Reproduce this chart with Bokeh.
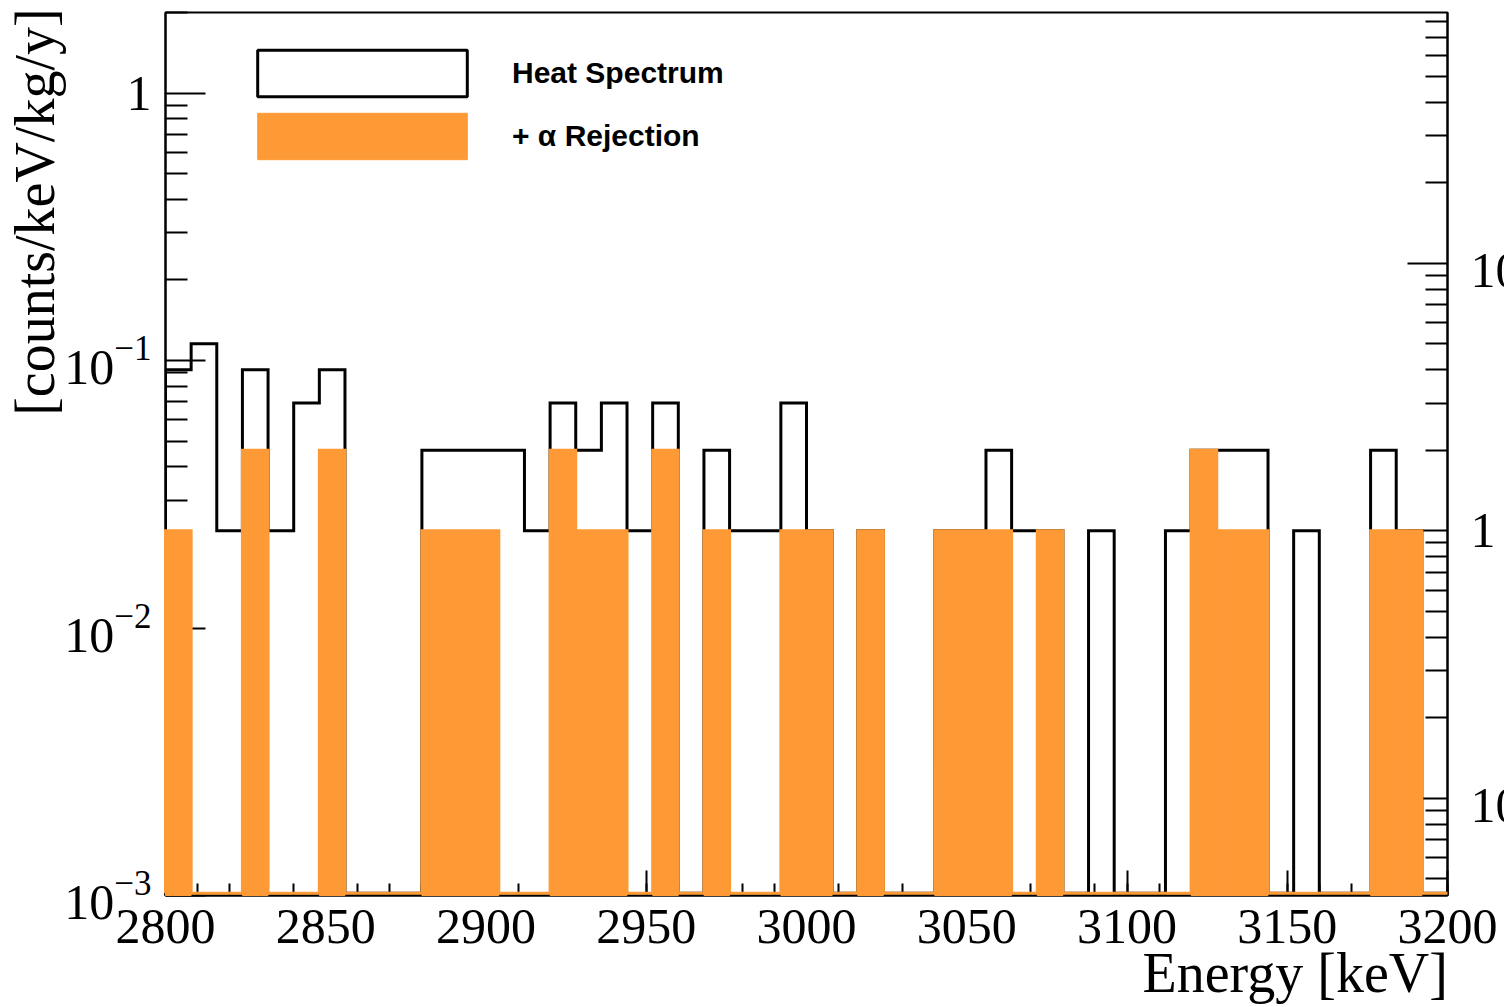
import json
import math
import numpy as np
from bokeh.plotting import figure
from bokeh.models import (Range1d, LogAxis, LinearAxis, LogScale, FixedTicker, SingleIntervalTicker,
                          LogTickFormatter, CustomJSTickFormatter, Legend, LegendItem)
from bokeh.embed import file_html
from bokeh.resources import INLINE

# ---------------- data ----------------
E_MIN, E_MAX, BIN_WIDTH = 2800.0, 3200.0, 8.0
# events per 8 keV bin
heat_counts = [4, 5, 1, 4, 1, 3, 4, 0, 0, 0,
               2, 2, 2, 2, 1, 3, 2, 3, 1, 3,
               0, 2, 1, 1, 3, 1, 0, 1, 0, 0,
               1, 1, 2, 1, 1, 0, 1, 0, 0, 1,
               2, 2, 2, 0, 1, 0, 0, 2, 1, 0]
alpha_rej_counts = [1, 0, 0, 2, 0, 0, 2, 0, 0, 0,
                    1, 1, 1, 0, 0, 2, 1, 1, 0, 2,
                    0, 1, 0, 0, 1, 1, 0, 1, 0, 0,
                    1, 1, 1, 0, 1, 0, 0, 0, 0, 0,
                    2, 1, 1, 0, 0, 0, 0, 1, 1, 0]
RATE_PER_COUNT = 0.0231          # counts/keV/kg/y for one event in a bin
Y_MIN, Y_MAX = 1e-3, 2.0
ZERO_LEVEL = 1.02e-3             # where empty bins are drawn (just above the axis floor)
left_major_ticks = [1e-3, 1e-2, 1e-1, 1.0]
right_major_ticks = [0.1, 1.0, 10.0]
x_tick_step = 50
legend_labels = ["Heat Spectrum", "+ \u03b1 Rejection"]
x_title = "Energy [keV]"
y_title = "[counts/keV/kg/y]"

ORANGE = "#FE9A36"
SERIF = "Liberation Serif"
TITLE_PX = 56

# ---------------- derived ----------------
edges = E_MIN + BIN_WIDTH * np.arange(len(heat_counts) + 1)
heat_rate = np.array(heat_counts, dtype=float) * RATE_PER_COUNT
alpha_rate = np.array(alpha_rej_counts, dtype=float) * RATE_PER_COUNT


def step_path(vals):
    v = np.where(vals > 0, vals, ZERO_LEVEL)
    xs, ys = [float(edges[0])], [ZERO_LEVEL]
    for i, val in enumerate(v):
        xs += [float(edges[i]), float(edges[i + 1])]
        ys += [float(val), float(val)]
    xs.append(float(edges[-1]))
    ys.append(ZERO_LEVEL)
    return xs, ys


VIEW_W, VIEW_H = 1504, 1007          # visible page area (the right tick labels run off it, as in the original)
ML, MT, MB = 165, 12, 112
FW = 1447 - ML
MR = 120
W, H = ML + FW + MR, VIEW_H
FH = H - MT - MB
PX_PER_KEV = FW / (E_MAX - E_MIN)
PX_PER_DECADE = FH / math.log10(Y_MAX / Y_MIN)

p = figure(width=W, height=H, x_range=Range1d(E_MIN, E_MAX), y_range=Range1d(Y_MIN, Y_MAX),
           y_axis_type="log", output_backend="svg", toolbar_location=None,
           min_border_left=ML, min_border_right=MR, min_border_top=MT, min_border_bottom=MB)
p.grid.visible = False
p.outline_line_color = "black"
p.outline_line_width = 2
p.background_fill_color = "white"
p.border_fill_color = "white"

# black heat-spectrum histogram
hx, hy = step_path(heat_rate)
r_heat = p.line(hx, hy, line_color="black", line_width=3, line_join="miter")

# orange alpha-rejected histogram (fill + outline), drawn above the axis ticks as in the original
mask = alpha_rate > 0
r_orange = p.quad(left=edges[:-1][mask], right=edges[1:][mask], bottom=Y_MIN, top=alpha_rate[mask],
                  fill_color=ORANGE, line_color=ORANGE, line_width=1, level="annotation")
ox, oy = step_path(alpha_rate)
p.line(ox, oy, line_color=ORANGE, line_width=3, line_join="miter", level="annotation")

# ---------------- axes ----------------
xa = p.xaxis[0]
xa.ticker = SingleIntervalTicker(interval=x_tick_step, num_minor_ticks=5)
xa.major_tick_in, xa.major_tick_out = 25, 0
xa.minor_tick_in, xa.minor_tick_out = 12, 0
xa.major_label_standoff = 14

ya = p.yaxis[0]
ya.ticker = FixedTicker(ticks=left_major_ticks,
                        minor_ticks=[m * d for d in left_major_ticks for m in range(2, 10)])
ya.formatter = LogTickFormatter(min_exponent=1)
ya.major_tick_in, ya.major_tick_out = 40, 0
ya.minor_tick_in, ya.minor_tick_out = 22, 0
ya.major_label_standoff = 14

# right axis in raw counts
p.extra_y_ranges = {"counts": Range1d(Y_MIN / RATE_PER_COUNT, Y_MAX / RATE_PER_COUNT)}
p.extra_y_scales = {"counts": LogScale()}
ra = LogAxis(y_range_name="counts",
             ticker=FixedTicker(ticks=right_major_ticks,
                                minor_ticks=[m * d for d in [0.01] + right_major_ticks for m in range(2, 10)]),
             formatter=LogTickFormatter(min_exponent=1),
             major_tick_in=40, major_tick_out=0, minor_tick_in=22, minor_tick_out=0,
             major_label_standoff=23)
p.add_layout(ra, "right")

for ax in (xa, ya, ra):
    ax.axis_line_width = 2
    ax.axis_line_color = "black"
    ax.major_tick_line_width = 2
    ax.minor_tick_line_width = 2
    ax.major_tick_line_color = "black"
    ax.minor_tick_line_color = "black"
    ax.major_label_text_font = SERIF
    ax.major_label_text_font_size = "50px"
    ax.major_label_text_color = "black"

# axis titles, right-/top-aligned as in ROOT (single-label axes stacked outside the tick labels)
x_title_width_px = 5.44 * TITLE_PX
x_title_pos = E_MAX - 0.5 * x_title_width_px / PX_PER_KEV
xt = LinearAxis(ticker=FixedTicker(ticks=[x_title_pos], minor_ticks=[]),
                formatter=CustomJSTickFormatter(code="return " + json.dumps(x_title)),
                major_label_standoff=-4)
p.add_layout(xt, "below")

y_title_len_px = 7.13 * TITLE_PX
y_title_pos = Y_MAX * 10 ** (-(0.5 * y_title_len_px) / PX_PER_DECADE)
yt = LinearAxis(ticker=FixedTicker(ticks=[y_title_pos], minor_ticks=[]),
                formatter=CustomJSTickFormatter(code="return " + json.dumps(y_title)),
                major_label_orientation="parallel",
                major_label_standoff=-5)
p.add_layout(yt, "left")

for ax in (xt, yt):
    ax.axis_line_alpha = 0
    ax.major_tick_line_alpha = 0
    ax.minor_tick_line_alpha = 0
    ax.major_tick_in = ax.major_tick_out = 0
    ax.minor_tick_in = ax.minor_tick_out = 0
    ax.major_label_text_font = SERIF
    ax.major_label_text_font_size = f"{TITLE_PX}px"
    ax.major_label_text_color = "black"

# legend-only renderer for the heat spectrum box
r_heat_leg = p.quad(left=[E_MIN], right=[E_MIN], top=[Y_MIN], bottom=[Y_MIN], fill_alpha=0,
                    line_color="black", line_width=3)

# legend (area glyphs are inset by 10% inside the glyph cell)
GLW, GLH, GSP = 262, 58, 5
legend = Legend(items=[LegendItem(label=legend_labels[0], renderers=[r_heat_leg]),
                       LegendItem(label=legend_labels[1], renderers=[r_orange])],
                location=(257 - ML - 26, FH - (50 - MT - 6) - (2 * GLH + GSP)))
legend.padding = 0
legend.margin = 0
legend.spacing = GSP
legend.glyph_width = GLW
legend.glyph_height = GLH
legend.label_height = GLH
legend.label_standoff = 19
legend.label_text_font = "Liberation Sans"
legend.label_text_font_style = "bold"
legend.label_text_font_size = "30px"
legend.label_text_color = "black"
legend.border_line_alpha = 0
legend.background_fill_alpha = 0
p.add_layout(legend)

html = file_html(p, INLINE)
# clip the page to the window size so the off-edge right labels are cut as in the original
html = html.replace("<body>", f'<body><div style="width:{VIEW_W}px;height:{VIEW_H}px;overflow:hidden;">', 1)
idx = html.rfind("</body>")
html = html[:idx] + "</div>" + html[idx:]
open("out.html", "w").write(html)
